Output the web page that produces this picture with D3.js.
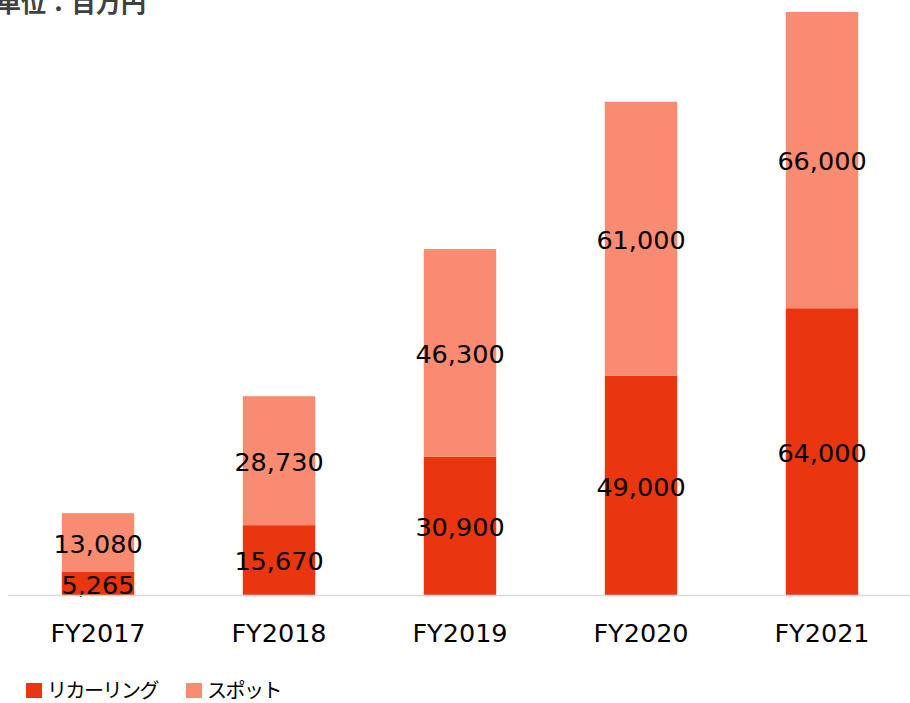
<!DOCTYPE html>
<html>
<head>
<meta charset="utf-8">
<script src="https://cdn.jsdelivr.net/npm/d3@7"></script>
<style>
  html, body { margin: 0; padding: 0; background: #fff; }
  svg { display: block; }
</style>
</head>
<body>
<div class="canvas"></div>
<script>
// data
var years = ["FY2017", "FY2018", "FY2019", "FY2020", "FY2021"]
var recurring = [5265, 15670, 30900, 49000, 64000]
var spot = [13080, 28730, 46300, 61000, 66000]
var seriesNames = ["リカーリング", "スポット"]
var colors = ["#E9360E", "#F88B70"]

var width = 910, height = 703
var baseY = 595.5, topY = 12

var svg = d3.select(".canvas")
    .append("svg")
    .attr("width", width)
    .attr("height", height)

var x = d3.scaleBand()
    .domain(years)
    .range([7.5, 912.5])
    .paddingInner(0.6)
    .paddingOuter(0.3)

var y = d3.scaleLinear()
    .domain([0, 130000])
    .range([baseY, topY])

// stacked rows
var rows = years.map(function (yr, i) {
  return { year: yr, recurring: recurring[i], spot: spot[i] }
})
var stack = d3.stack().keys(["recurring", "spot"])
var layers = stack(rows)

var fmt = d3.format(",")

var g = svg.append("g")

layers.forEach(function (layer, li) {
  g.append("g")
    .selectAll("rect")
    .data(layer)
    .join("rect")
      .attr("x", d => x(d.data.year))
      .attr("width", x.bandwidth())
      .attr("y", d => y(d[1]))
      .attr("height", d => y(d[0]) - y(d[1]))
      .attr("fill", colors[li])
})

// value labels
layers.forEach(function (layer, li) {
  g.append("g")
    .selectAll("text")
    .data(layer)
    .join("text")
      .attr("x", d => x(d.data.year) + x.bandwidth() / 2)
      .attr("y", d => (y(d[0]) + y(d[1])) / 2 + 10)
      .attr("text-anchor", "middle")
      .style("font-family", "'DejaVu Sans', Verdana, sans-serif")
      .style("font-size", "25.5px")
      .attr("fill", "#000")
      .text(d => fmt(d[1] - d[0]))
})

// baseline
svg.append("line")
    .attr("x1", 8).attr("x2", 910)
    .attr("y1", baseY).attr("y2", baseY)
    .attr("stroke", "#d9d9d9")
    .attr("stroke-width", 1.5)

// x axis labels
var xAxis = d3.axisBottom(x).tickSize(0).tickPadding(0)
var ax = svg.append("g")
    .attr("transform", "translate(0," + baseY + ")")
    .call(xAxis)
ax.select(".domain").remove()
ax.selectAll("text")
    .attr("dy", null)
    .attr("y", 46.5)
    .style("font-family", "'DejaVu Sans', Verdana, sans-serif")
    .style("font-size", "25.5px")
    .attr("fill", "#000")

// unit title (cut at top like the original)
svg.append("text")
    .attr("x", -4)
    .attr("y", 12)
    .style("font-family", "'Noto Sans CJK JP', sans-serif")
    .style("font-size", "25px")
    .style("font-weight", "bold")
    .attr("fill", "#404040")
    .text("単位：百万円")

// legend
var legend = svg.append("g")
var legX = [26, 186]
seriesNames.forEach(function (name, i) {
  legend.append("rect")
    .attr("x", legX[i]).attr("y", 683)
    .attr("width", 16).attr("height", 15)
    .attr("fill", colors[i])
  legend.append("text")
    .attr("x", legX[i] + 21)
    .attr("y", 698)
    .style("font-family", "'Noto Sans CJK JP', sans-serif")
    .style("font-size", "20px")
    .style("letter-spacing", "-1.5px")
    .attr("fill", "#000")
    .text(name)
})
</script>
</body>
</html>
